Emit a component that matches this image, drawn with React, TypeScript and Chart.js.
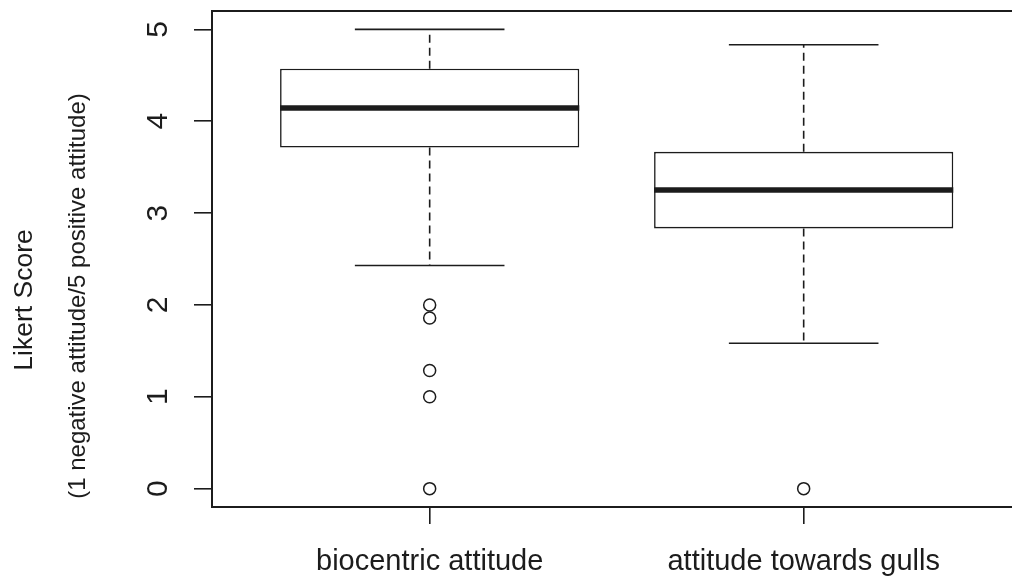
import { useEffect, useRef } from 'react';
import { Chart, registerables } from 'chart.js';

Chart.register(...registerables);

// Two groups of Likert scores, summarised as box plots.
const categories = ['biocentric attitude', 'attitude towards gulls'];
const positions = [1, 2];
const lowerWhisker = [2.429, 1.583];
const lowerQuartile = [3.714, 2.833];
const medians = [4.143, 3.25];
const upperQuartile = [4.571, 3.667];
const upperWhisker = [5, 4.833];
const outliers = [
  [2, 1.857, 1.286, 1, 0],
  [0],
];
const yTicks = [0, 1, 2, 3, 4, 5];
const yTitleLines = ['Likert Score', '(1 negative attitude/5 positive attitude)'];

const FONT = '"Liberation Sans", Arial, Helvetica, sans-serif';
const INK = '#1c1c1c';
const BOX_HALF = 0.4;
const CAP_HALF = 0.2;

function strokeLine(ctx: CanvasRenderingContext2D, x1: number, y1: number, x2: number, y2: number) {
  ctx.beginPath();
  ctx.moveTo(x1, y1);
  ctx.lineTo(x2, y2);
  ctx.stroke();
}

// Whiskers, caps and medians, placed with the chart's own scales.
const boxMarksPlugin = {
  id: 'boxMarks',
  afterDatasetsDraw(chart: any) {
    const { ctx, scales } = chart;
    const xs = scales.x;
    const ys = scales.y;
    ctx.save();
    ctx.strokeStyle = INK;
    ctx.lineCap = 'butt';
    positions.forEach((pos, i) => {
      const cx = xs.getPixelForValue(pos);
      const capL = xs.getPixelForValue(pos - CAP_HALF);
      const capR = xs.getPixelForValue(pos + CAP_HALF);
      const boxL = xs.getPixelForValue(pos - BOX_HALF);
      const boxR = xs.getPixelForValue(pos + BOX_HALF);

      ctx.lineWidth = 1.6;
      ctx.setLineDash([8, 5]);
      strokeLine(ctx, cx, ys.getPixelForValue(upperQuartile[i]), cx, ys.getPixelForValue(upperWhisker[i]));
      strokeLine(ctx, cx, ys.getPixelForValue(lowerQuartile[i]), cx, ys.getPixelForValue(lowerWhisker[i]));
      ctx.setLineDash([]);

      strokeLine(ctx, capL, ys.getPixelForValue(upperWhisker[i]), capR, ys.getPixelForValue(upperWhisker[i]));
      strokeLine(ctx, capL, ys.getPixelForValue(lowerWhisker[i]), capR, ys.getPixelForValue(lowerWhisker[i]));

      ctx.lineWidth = 5.5;
      strokeLine(ctx, boxL, ys.getPixelForValue(medians[i]), boxR, ys.getPixelForValue(medians[i]));
    });
    ctx.restore();
  },
};

// Top edge of the plot frame and the two-line rotated y-axis title.
const frameAndTitlePlugin = {
  id: 'frameAndTitle',
  afterDraw(chart: any) {
    const { ctx, chartArea } = chart;
    ctx.save();
    ctx.strokeStyle = INK;
    ctx.lineWidth = 2;
    strokeLine(ctx, chartArea.left, chartArea.top, chartArea.right, chartArea.top);

    ctx.fillStyle = INK;
    ctx.textAlign = 'center';
    ctx.textBaseline = 'alphabetic';
    const sizes = [26.5, 24];
    const baselines = [32, 85];
    const centres = [300, 296];
    yTitleLines.forEach((text, i) => {
      ctx.save();
      ctx.font = `${sizes[i]}px ${FONT}`;
      ctx.translate(baselines[i], centres[i]);
      ctx.rotate(-Math.PI / 2);
      ctx.fillText(text, 0, 0);
      ctx.restore();
    });
    ctx.restore();
  },
};

export default function App() {
  const canvasRef = useRef<HTMLCanvasElement | null>(null);

  useEffect(() => {
    const canvas = canvasRef.current;
    if (!canvas) return;

    const outlierPoints = outliers.flatMap((vals, i) => vals.map((v) => ({ x: positions[i], y: v })));

    const chart = new Chart(canvas, {
      type: 'bar',
      data: {
        datasets: [
          {
            type: 'bar',
            label: 'box',
            data: positions.map((p, i) => ({ x: p, y: [lowerQuartile[i], upperQuartile[i]] })) as any,
            backgroundColor: '#ffffff',
            borderColor: INK,
            borderWidth: 1.6,
            borderSkipped: false,
            barPercentage: BOX_HALF * 2,
            categoryPercentage: 1,
          },
          {
            type: 'scatter',
            label: 'outliers',
            data: outlierPoints as any,
            pointStyle: 'circle',
            pointRadius: 6,
            pointBorderWidth: 1.5,
            pointBorderColor: INK,
            pointBackgroundColor: 'rgba(0,0,0,0)',
            showLine: false,
          } as any,
        ],
      },
      plugins: [boxMarksPlugin, frameAndTitlePlugin],
      options: {
        animation: false,
        responsive: false,
        layout: { autoPadding: false, padding: { top: 11, right: 0, left: 0, bottom: 0 } },
        plugins: {
          legend: { display: false },
          tooltip: { enabled: false },
        },
        scales: {
          x: {
            type: 'linear',
            min: 0.418,
            max: 2.557,
            offset: false,
            grid: {
              display: true,
              offset: false,
              drawOnChartArea: false,
              drawTicks: true,
              tickLength: 17,
              color: INK,
              lineWidth: 1.6,
            },
            border: { display: true, color: INK, width: 2 },
            afterBuildTicks: (s: any) => {
              s.ticks = positions.map((v) => ({ value: v }));
            },
            afterFit: (s: any) => {
              s.height = 71;
              s.paddingLeft = 0;
              s.paddingRight = 0;
            },
            ticks: {
              autoSkip: false,
              maxRotation: 0,
              minRotation: 0,
              padding: 21,
              color: INK,
              font: { family: FONT, size: 29 },
              callback: (v: any) => {
                const idx = positions.indexOf(Number(v));
                return idx >= 0 ? categories[idx] : '';
              },
            },
          },
          y: {
            type: 'linear',
            min: -0.2,
            max: 5.2,
            grid: {
              display: true,
              drawOnChartArea: false,
              drawTicks: true,
              tickLength: 18,
              color: INK,
              lineWidth: 1.6,
            },
            border: { display: true, color: INK, width: 2 },
            afterBuildTicks: (s: any) => {
              s.ticks = yTicks.map((v) => ({ value: v }));
            },
            afterFit: (s: any) => {
              s.width = 212;
              s.paddingTop = 0;
              s.paddingBottom = 0;
            },
            ticks: {
              autoSkip: false,
              minRotation: 90,
              maxRotation: 90,
              crossAlign: 'center',
              padding: 27,
              color: INK,
              font: { family: FONT, size: 30 },
              callback: (v: any) => String(v),
            },
          },
        },
      },
    });

    return () => chart.destroy();
  }, []);

  return (
    <div style={{ position: 'fixed', left: 0, top: 0, width: 1012, height: 578, background: '#ffffff' }}>
      <canvas ref={canvasRef} width={1012} height={578} />
    </div>
  );
}
